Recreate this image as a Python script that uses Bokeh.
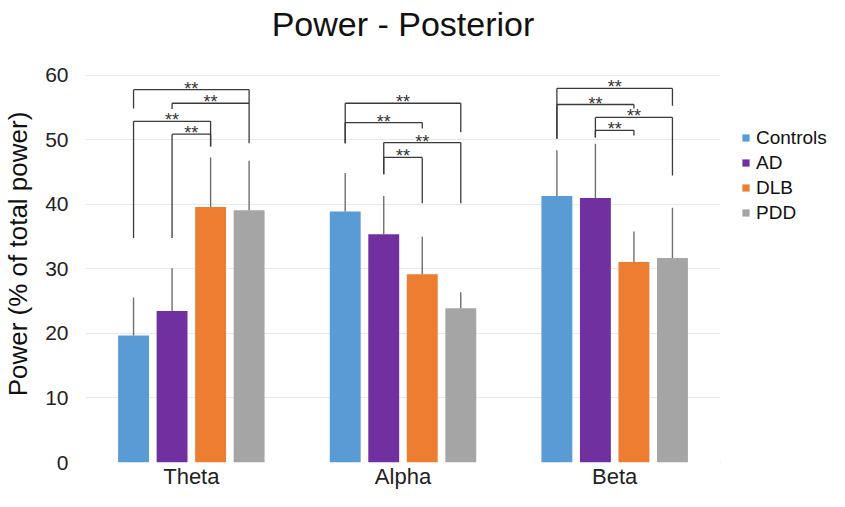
from bokeh.plotting import figure
from bokeh.layouts import row
from bokeh.models import (ColumnDataSource, FactorRange, Range1d, Legend, LegendItem,
                          FixedTicker)
from bokeh.transform import dodge
from bokeh.core.properties import value
from bokeh.embed import file_html
from bokeh.resources import INLINE

# ---- data ----
bands = ["Theta", "Alpha", "Beta"]
groups = ["Controls", "AD", "DLB", "PDD"]
colors = ["#5B9BD5", "#7030A0", "#ED7D31", "#A5A5A5"]

controls = [19.7, 38.9, 41.3]
ad = [23.5, 35.4, 41.0]
dlb = [39.6, 29.2, 31.1]
pdd = [39.1, 23.9, 31.7]

controls_err = [5.9, 6.0, 7.1]
ad_err = [6.6, 5.9, 8.4]
dlb_err = [7.7, 5.8, 4.7]
pdd_err = [7.7, 2.5, 7.8]

y_ticks = [0, 10, 20, 30, 40, 50, 60]

# significance brackets: band index, group a, group b, bracket level, leg bottoms
sig_band = [0, 0, 0, 0, 1, 1, 1, 1, 2, 2, 2, 2]
sig_a = [0, 1, 0, 1, 0, 0, 1, 1, 0, 0, 1, 1]
sig_b = [3, 3, 2, 2, 3, 2, 3, 2, 3, 2, 3, 2]
sig_level = [57.8, 55.7, 52.9, 50.9, 55.7, 52.7, 49.6, 47.3, 58.0, 55.5, 53.5, 51.5]
sig_a_bottom = [54.9, 54.8, 34.8, 34.8, 49.5, 49.5, 44.7, 44.7, 50.2, 50.2, 50.4, 50.4]
sig_b_bottom = [49.5, 55.7, 49.0, 49.0, 51.2, 51.8, 40.2, 40.2, 55.3, 54.9, 44.5, 50.7]
sig_text = ["**"] * 12

values = [controls, ad, dlb, pdd]
errors = [controls_err, ad_err, dlb_err, pdd_err]

FONT = "Liberation Sans"
offsets = [-0.273, -0.091, 0.091, 0.273]
bar_w = 0.146

p = figure(width=720, height=491, output_backend="svg", toolbar_location=None,
           x_range=FactorRange(*bands, range_padding=0, factor_padding=0),
           y_range=Range1d(0, 64.65),
           min_border_left=82, min_border_right=0, min_border_top=37,
           min_border_bottom=29)
p.outline_line_color = None
p.background_fill_color = "white"
p.border_fill_color = "white"

bar_renderers = []
for g, vals, errs, col, off in zip(groups, values, errors, colors, offsets):
    src = ColumnDataSource(dict(band=bands, val=vals,
                                top=[v + e for v, e in zip(vals, errs)]))
    r = p.vbar(x=dodge("band", off, range=p.x_range), top="val", bottom=0,
               width=bar_w, source=src, fill_color=col, line_color=None)
    p.segment(x0=dodge("band", off, range=p.x_range), x1=dodge("band", off, range=p.x_range),
              y0="val", y1="top", source=src, line_color="#6f6f6f", line_width=1.4)
    bar_renderers.append(r)

# brackets (numeric synthetic coordinates of the factor range)
xa = [b + 0.5 + offsets[a] for b, a in zip(sig_band, sig_a)]
xb = [b + 0.5 + offsets[c] for b, c in zip(sig_band, sig_b)]
sig_src = ColumnDataSource(dict(xa=xa, xb=xb, y=sig_level, ya=sig_a_bottom,
                                yb=sig_b_bottom, xm=[(u + v) / 2 for u, v in zip(xa, xb)],
                                t=sig_text))
bk = dict(source=sig_src, line_color="#3a3a3a", line_width=1.3)
p.segment(x0="xa", x1="xb", y0="y", y1="y", **bk)
p.segment(x0="xa", x1="xa", y0="y", y1="ya", **bk)
p.segment(x0="xb", x1="xb", y0="y", y1="yb", **bk)
p.text(x="xm", y="y", text="t", source=sig_src, text_font=value(FONT),
       text_font_size="18px", text_align="center", text_baseline="middle",
       text_color="#333333", y_offset=-1)

# axes
p.xgrid.grid_line_color = None
p.ygrid.grid_line_color = "#e8e8e8"
p.ygrid.grid_line_width = 1
p.yaxis.ticker = FixedTicker(ticks=y_ticks)
for ax in (p.xaxis[0], p.yaxis[0]):
    ax.axis_line_color = None
    ax.major_tick_line_color = None
    ax.minor_tick_line_color = None
    ax.major_tick_out = 0
    ax.major_tick_in = 0
    ax.minor_tick_out = 0
    ax.minor_tick_in = 0
    ax.major_label_text_font = FONT
    ax.major_label_text_color = "#222222"
    ax.axis_label_text_font = FONT
p.yaxis.major_label_text_font_size = "21px"
p.yaxis.major_label_standoff = 17
p.yaxis.axis_label = "Power (% of total power)"
p.yaxis.axis_label_text_font_size = "26px"
p.yaxis.axis_label_text_font_style = "normal"
p.yaxis.axis_label_text_color = "#111111"
p.yaxis.axis_label_standoff = 9
p.xaxis.axis_label = None
p.xaxis.major_label_text_font_size = "22px"
p.xaxis.major_label_standoff = 1
p.xaxis.axis_label_standoff = 0

# title
p.title.text = "Power - Posterior"
p.title.align = "center"
p.title.text_font = FONT
p.title.text_font_size = "34px"
p.title.text_font_style = "normal"
p.title.text_color = "#111111"
p.title.offset = -14
p.title.standoff = 5

# legend panel (swatches only; helper glyphs sit outside the visible range)
pl = figure(width=109, height=491, output_backend="svg", toolbar_location=None,
            x_range=Range1d(0, 1), y_range=Range1d(0, 1),
            x_axis_location=None, y_axis_location=None,
            min_border=0)
pl.outline_line_color = None
pl.xgrid.grid_line_color = None
pl.ygrid.grid_line_color = None
items = []
for g, col in zip(groups, colors):
    r = pl.vbar(x=[-5], top=[-5], bottom=-6, width=0.1, fill_color=col, line_color=None)
    items.append(LegendItem(label=g, renderers=[r]))
legend = Legend(items=items, location=(21, 238), orientation="vertical",
                label_text_font=FONT, label_text_font_size="19px",
                label_text_color="#111111", glyph_width=9, glyph_height=9,
                label_standoff=6, label_height=23, spacing=2, padding=0, margin=0,
                border_line_color=None, background_fill_alpha=0)
pl.add_layout(legend)

layout = row(p, pl, spacing=0)
open("out.html", "w").write(file_html(layout, INLINE))
